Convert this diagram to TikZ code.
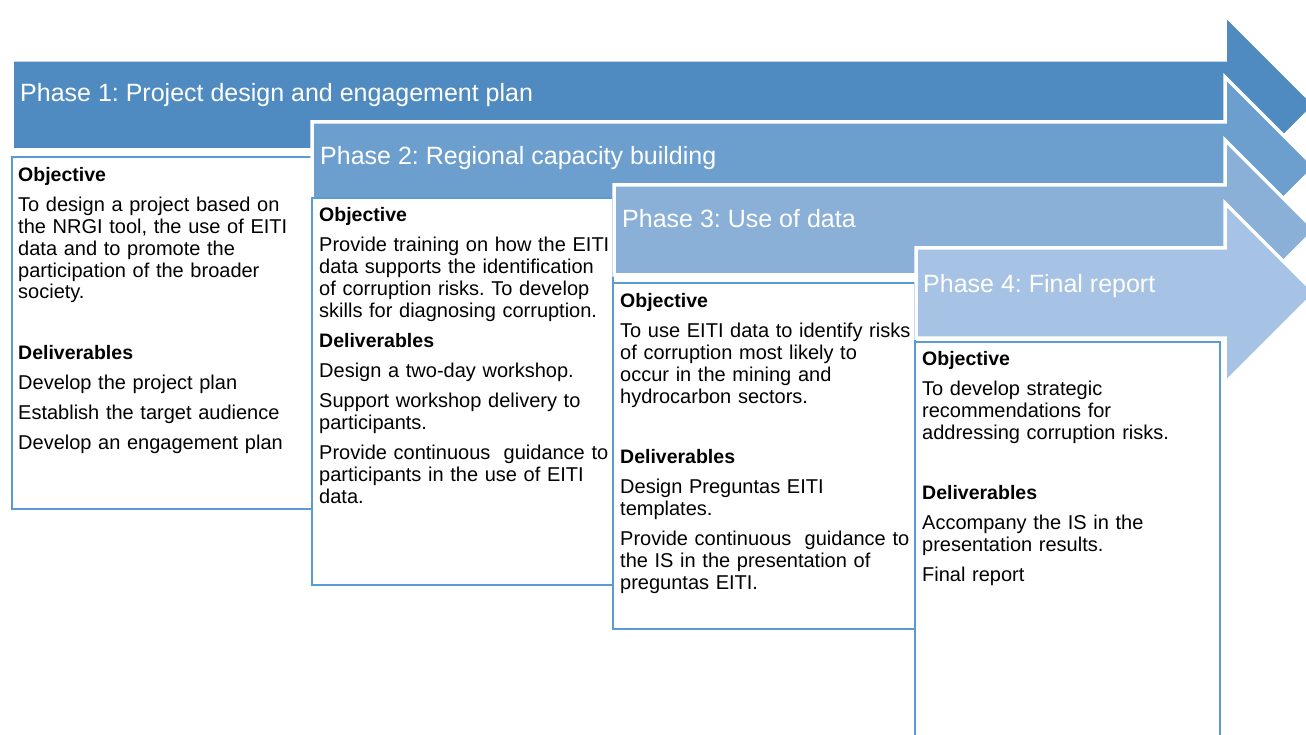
\documentclass[tikz,border=0pt]{standalone}
\usepackage{fontspec}
\setmainfont{Liberation Sans}
\usepackage{xcolor}
\definecolor{phaseOne}{RGB}{79,139,193}
\definecolor{phaseTwo}{RGB}{108,159,206}
\definecolor{phaseThree}{RGB}{138,176,215}
\definecolor{phaseFour}{RGB}{166,194,228}
\definecolor{boxBlue}{RGB}{91,155,213}
\setlength{\parindent}{0pt}
\frenchspacing
\newcommand{\hd}[1]{{\fontsize{19.5}{21.8}\selectfont\bfseries\strut #1}\par}

\begin{document}
\begin{tikzpicture}[x=1pt, y=-1pt]
            \tikzstyle{arrowshape} = [draw=white, line width=3.5pt, line join=miter]
            \tikzstyle{phase} = [anchor=base west, inner sep=0pt, text=white, font=\fontsize{25}{30}\selectfont]
            \tikzstyle{box} = [draw=boxBlue, line width=2.5pt, fill=white, anchor=north west, inner sep=0pt, outer sep=0pt]
            \tikzstyle{body} = [anchor=north west, inner sep=0pt, text width=292pt, align=left, font=\fontsize{20}{21.8}\selectfont\setlength{\parskip}{8.4pt}]
            \useasboundingbox (0,0) rectangle (1306,735);
            \clip (0,0) rectangle (1306,735);

            % Phase 1
            \fill[phaseOne, arrowshape] (12,60) -- (1225,60) -- (1225,15) -- (1315,105) -- (1225,195) -- (1225,150) -- (12,150) -- cycle;
            \node[phase] (p1) at (20,102) {Phase 1: Project design and engagement plan};
            \node[box, minimum width=300pt, minimum height=352pt] (b1) at (12,157) {};
            \node[body] (t1) at (18,166) {\hd{Objective}
              To design a project based on\\ the NRGI tool, the use of EITI\\ data and to promote the\\ participation of the broader\\ society.\par
              \mbox{}\par
              \hd{Deliverables}
              Develop the project plan\par
              Establish the target audience\par
              Develop an engagement plan};

            % Phase 2
            \fill[phaseTwo, arrowshape] (312,122) -- (1225,122) -- (1225,77) -- (1315,167) -- (1225,257) -- (1225,212) -- (312,212) -- cycle;
            \node[phase] (p2) at (320,165) {Phase 2: Regional capacity building};
            \node[box, minimum width=301pt, minimum height=387pt] (b2) at (312,198) {};
            \node[body] (t2) at (319,206) {\hd{Objective}
              Provide training on how the EITI\\ data supports the identification\\ of corruption risks. To develop\\ skills for diagnosing corruption.\par
              \hd{Deliverables}
              Design a two-day workshop.\par
              Support workshop delivery to\\ participants.\par
              Provide continuous\ \ guidance to\\ participants in the use of EITI\\ data.};

            % Phase 3
            \fill[phaseThree, arrowshape] (614,185) -- (1225,185) -- (1225,140) -- (1315,230) -- (1225,320) -- (1225,275) -- (614,275) -- cycle;
            \node[phase] (p3) at (622,228) {Phase 3: Use of data};
            \node[box, minimum width=302pt, minimum height=346pt] (b3) at (613,283) {};
            \node[body] (t3) at (620,292) {\hd{Objective}
              To use EITI data to identify risks\\ of corruption most likely to\\ occur in the mining and\\ hydrocarbon sectors.\par
              \mbox{}\par
              \hd{Deliverables}
              Design Preguntas EITI\\ templates.\par
              Provide continuous\ \ guidance to\\ the IS in the presentation of\\ preguntas EITI.};

            % Phase 4
            \fill[phaseFour, arrowshape] (916,248) -- (1225,248) -- (1225,203) -- (1315,293) -- (1225,383) -- (1225,338) -- (916,338) -- cycle;
            \node[phase] (p4) at (923,292) {Phase 4: Final report};
            \node[box, minimum width=305pt, minimum height=420pt] (b4) at (915,342) {};
            \node[body] (t4) at (922,350) {\hd{Objective}
              To develop strategic\\ recommendations for\\ addressing corruption risks.\par
              \mbox{}\par
              \hd{Deliverables}
              Accompany the IS in the\\ presentation results.\par
              Final report};
        \end{tikzpicture}
\end{document}
